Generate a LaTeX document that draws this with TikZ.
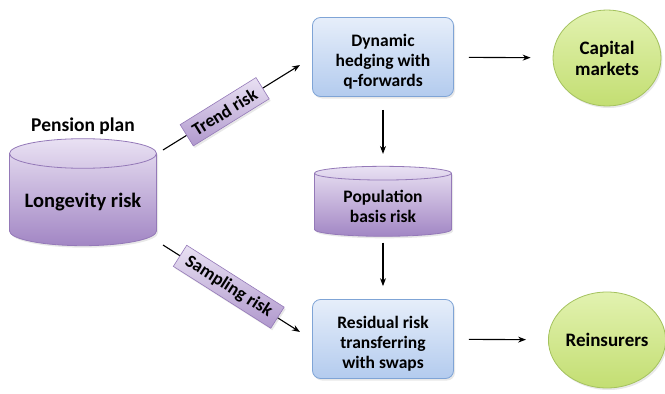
\documentclass[tikz,border=0pt]{standalone}
\usepackage{fontspec}
\setmainfont{Carlito}
\usetikzlibrary{arrows.meta,positioning,shapes.geometric,shadows}

\definecolor{boxtop}{HTML}{E6EEFA}
\definecolor{boxbot}{HTML}{B3CBEE}
\definecolor{boxline}{HTML}{7FA4D6}
\definecolor{drumtop}{HTML}{E9E1F3}
\definecolor{drumbot}{HTML}{A286C4}
\definecolor{drumline}{HTML}{9479B8}
\definecolor{balltop}{HTML}{E2F2B0}
\definecolor{ballbot}{HTML}{C3DE72}
\definecolor{ballline}{HTML}{A4C25E}

\begin{document}
\begin{tikzpicture}[
    x=1pt,y=1pt,
    >=Stealth,
    flow/.style={draw=black, line width=1.1pt, ->},
    soft/.style={drop shadow={opacity=0.18, shadow xshift=1.5pt, shadow yshift=-2pt}},
    bluebox/.style={
        rectangle, rounded corners=8pt,
        draw=boxline, line width=0.8pt,
        top color=boxtop, bottom color=boxbot,
        minimum width=141, minimum height=79,
        align=center, font=\fontsize{17.5}{20}\selectfont\bfseries, soft
    },
    drum/.style={
        cylinder, shape border rotate=90, aspect=0.24,
        draw=drumline, line width=0.8pt,
        top color=drumtop, bottom color=drumbot,
        align=center, font=\fontsize{17.5}{20}\selectfont\bfseries, soft
    },
    ball/.style={
        ellipse, minimum width=108, minimum height=96, inner sep=0pt,
        draw=ballline, line width=0.8pt,
        top color=balltop, bottom color=ballbot,
        align=center, font=\fontsize{19}{21}\selectfont\bfseries, soft
    },
    riskbox/.style={
        rectangle, sloped, draw=drumline, line width=0.6pt,
        top color=drumtop, bottom color=drumbot!85,
        minimum height=25, inner xsep=8pt, inner ysep=2pt,
        font=\fontsize{18}{20}\selectfont\bfseries, soft
    },
    caption/.style={font=\fontsize{19.5}{22}\selectfont\bfseries}
]
\useasboundingbox (0,0) rectangle (665,-394);

% left: the pension plan
\node[drum, minimum width=147, minimum height=107] (plan) at (83,-202)
  {\fontsize{20.5}{23}\selectfont Longevity risk};
\node[caption] (plantitle) at (83,-126) {Pension plan};

% middle column
\node[bluebox] (hedge) at (383,-57) {\rule{0pt}{21pt}Dynamic\\hedging with\\q-forwards};
\node[drum, aspect=0.16, minimum width=137, minimum height=70] (basis) at (383,-206)
  {Population\\basis risk};
\node[bluebox] (swap) at (383,-339) {\rule{0pt}{21pt}Residual risk\\transferring\\with swaps};

% right: counterparties
\node[ball] (capital) at (607,-58) {Capital\\markets};
\node[ball] (reins) at (607,-340) {Reinsurers};

% risk flows
\draw[flow] ([shift={(80,52)}]plan.center) --
  node[riskbox, pos=0.45] {Trend risk} ([shift={(-83,-8)}]hedge.center);
\draw[flow] ([shift={(80,-43)}]plan.center) --
  node[riskbox, pos=0.48] {Sampling risk} ([shift={(-83,7)}]swap.center);

\draw[flow, shorten <=13pt, shorten >=12pt] (hedge) -- (basis);
\draw[flow, shorten <=6pt, shorten >=13pt] (basis) -- (swap);

\draw[flow, shorten <=15pt, shorten >=22pt] (hedge) -- (capital);
\draw[flow, shorten <=15pt, shorten >=22pt] (swap) -- (reins);
\end{tikzpicture}
\end{document}
